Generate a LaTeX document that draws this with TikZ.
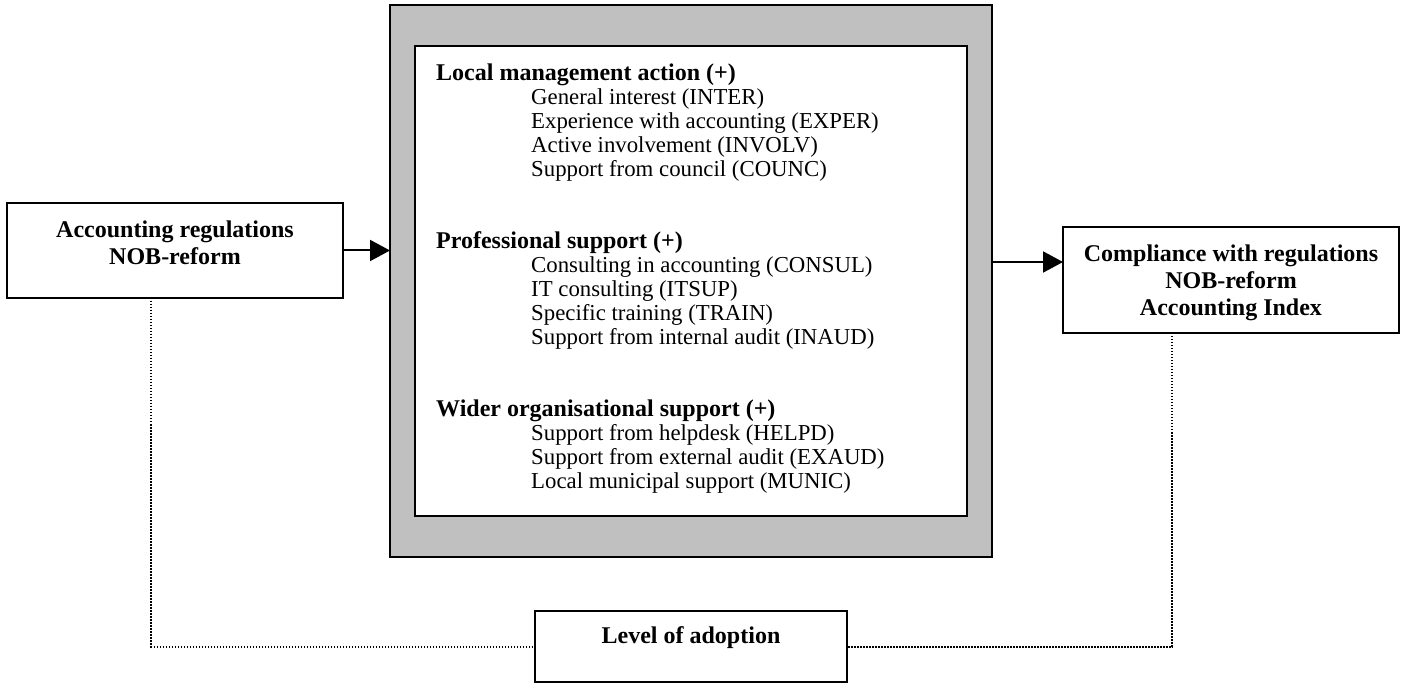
\documentclass[tikz,border=0pt]{standalone}
\usepackage{fontspec}
\setmainfont{Liberation Serif}
\usepackage{tikz}
\usetikzlibrary{arrows.meta,positioning}
\definecolor{PanelGray}{HTML}{C0C0C0}

% one factor group: bold heading, indented items
\newcommand{\factorhead}[1]{{\fontsize{24pt}{24pt}\selectfont\bfseries #1}}
\newcommand{\factoritem}[1]{\hspace*{95pt}#1}

\begin{document}
\begin{tikzpicture}[>={Triangle[length=20pt,width=21pt]},
  box/.style={draw=black, line width=2pt, fill=white, outer sep=0pt, inner sep=0pt},
  boxtext/.style={align=center, inner sep=0pt, font=\fontsize{24pt}{27pt}\selectfont\bfseries},
  link/.style={->, line width=2pt},
  tie/.style={line width=2pt, dash pattern=on 1.5pt off 1.5pt}]
  \useasboundingbox (0pt,0pt) rectangle (1406pt,-684pt);

  % framed block of factors
  \node[box, fill=PanelGray, minimum width=602pt, minimum height=552pt] (panel) at (691pt,-281pt) {};
  \node[box, minimum width=552pt, minimum height=470pt] (factors) at (panel) {};
  \node[anchor=north west, inner sep=0pt, align=left, font=\fontsize{22.8pt}{24pt}\selectfont] (factortext) at (436pt,-63.4pt) {%
    \factorhead{Local management action (+)}\\
    \factoritem{General interest (INTER)}\\
    \factoritem{Experience with accounting (EXPER)}\\
    \factoritem{Active involvement (INVOLV)}\\
    \factoritem{Support from council (COUNC)}\\[48pt]
    \factorhead{Professional support (+)}\\
    \factoritem{Consulting in accounting (CONSUL)}\\
    \factoritem{IT consulting (ITSUP)}\\
    \factoritem{Specific training (TRAIN)}\\
    \factoritem{Support from internal audit (INAUD)}\\[48pt]
    \factorhead{Wider organisational support (+)}\\
    \factoritem{Support from helpdesk (HELPD)}\\
    \factoritem{Support from external audit (EXAUD)}\\
    \factoritem{Local municipal support (MUNIC)}};

  % input, outcome and moderator boxes
  \node[box, minimum width=336pt, minimum height=95pt, left=47pt of panel, yshift=30.5pt] (regs) {};
  \node[boxtext] (regstext) at ([yshift=8.1pt]regs.center) {Accounting regulations\\NOB-reform};
  \node[box, minimum width=336pt, minimum height=106pt, right=71pt of panel, yshift=1pt] (comply) {};
  \node[boxtext] (complytext) at ([yshift=-2.4pt]comply.center) {Compliance with regulations\\NOB-reform\\Accounting Index};
  \node[box, minimum width=312pt, minimum height=71pt, below=54pt of panel] (adopt) {};
  \node[boxtext] (adopttext) at ([yshift=9pt]adopt.center) {Level of adoption};

  \draw[link] (regs.east) -- (regs.east -| panel.west);
  \draw[link] ([yshift=18pt]comply.west -| panel.east) -- ([yshift=18pt]comply.west);
  \draw[tie] ([xshift=-24pt]regs.south) |- (adopt.west);
  \draw[tie] ([xshift=-59pt]comply.south) |- (adopt.east);
\end{tikzpicture}
\end{document}
